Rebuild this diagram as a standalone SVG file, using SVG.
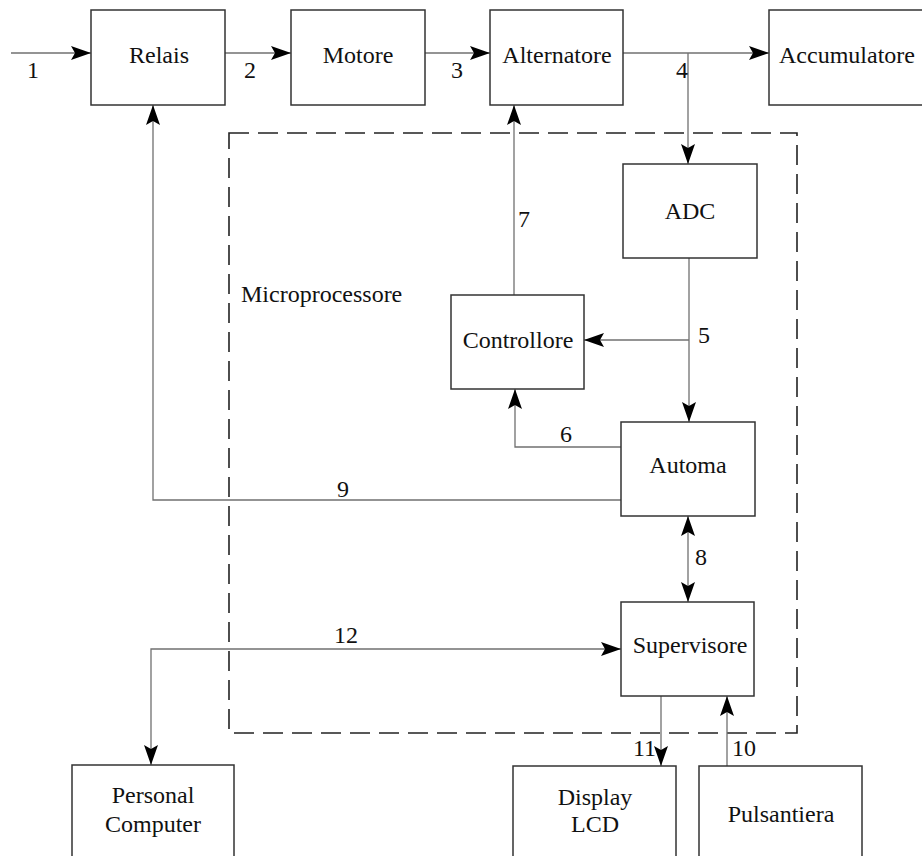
<svg xmlns="http://www.w3.org/2000/svg" width="922" height="856" viewBox="0 0 922 856">
<style>
.box{fill:#fff;stroke:#333;stroke-width:1.5}
.ln{fill:none;stroke:#707070;stroke-width:1.3}
.dash{fill:none;stroke:#222;stroke-width:1.6;stroke-dasharray:20 9}
text{font-family:"Liberation Serif","Times New Roman",Tinos,"DejaVu Serif",serif;font-size:24px;fill:#111}
.c{text-anchor:middle}
</style>
<defs>
<marker id="ah" markerUnits="userSpaceOnUse" markerWidth="22" markerHeight="16" refX="20" refY="7" orient="auto-start-reverse" viewBox="0 0 22 14">
<path d="M0,0 L20,7 L0,14 L4,7 z" fill="#000"/>
</marker>
</defs>
<rect width="922" height="856" fill="#fff"/>
<rect class="dash" x="229" y="133" width="568" height="600"/>
<text x="241" y="302" font-family="Liberation Serif, serif">Microprocessore</text>
<g id="connectors">
<path class="ln" d="M11,53 H91" marker-end="url(#ah)"/>
<path class="ln" d="M225,53 H291" marker-end="url(#ah)"/>
<path class="ln" d="M425,53 H490" marker-end="url(#ah)"/>
<path class="ln" d="M623,53 H769" marker-end="url(#ah)"/>
<path class="ln" d="M688,53 V164" marker-end="url(#ah)"/>
<path class="ln" d="M689,258 V422" marker-end="url(#ah)"/>
<path class="ln" d="M689,340 H584" marker-end="url(#ah)"/>
<path class="ln" d="M621,447 H515 V389" marker-end="url(#ah)"/>
<path class="ln" d="M514,295 V105" marker-end="url(#ah)"/>
<path class="ln" d="M621,500 H153 V105" marker-end="url(#ah)"/>
<path class="ln" d="M688,516 V602" marker-start="url(#ah)" marker-end="url(#ah)"/>
<path class="ln" d="M151,765 V649 H621" marker-start="url(#ah)" marker-end="url(#ah)"/>
<path class="ln" d="M661,696 V766" marker-end="url(#ah)"/>
<path class="ln" d="M727,766 V696" marker-end="url(#ah)"/>
<text x="33" y="78" class="c">1</text>
<text x="250" y="78" class="c">2</text>
<text x="457" y="78" class="c">3</text>
<text x="682" y="78" class="c">4</text>
<text x="698" y="343">5</text>
<text x="566" y="442" class="c">6</text>
<text x="518" y="227">7</text>
<text x="695" y="565">8</text>
<text x="343" y="497" class="c">9</text>
<text x="732" y="756">10</text>
<text x="656" y="756" text-anchor="end">11</text>
<text x="346" y="643" class="c">12</text>
</g>
<g id="relais"><rect class="box" x="91" y="10" width="134" height="95"/><text x="159" y="63" class="c">Relais</text></g>
<g id="motore"><rect class="box" x="291" y="10" width="134" height="95"/><text x="358" y="63" class="c">Motore</text></g>
<g id="alternatore"><rect class="box" x="490" y="10" width="133" height="95"/><text x="557" y="63" class="c">Alternatore</text></g>
<g id="accumulatore"><rect class="box" x="769" y="10" width="170" height="95"/><text x="847" y="63" class="c">Accumulatore</text></g>
<g id="adc"><rect class="box" x="623" y="164" width="134" height="94"/><text x="690" y="219" class="c">ADC</text></g>
<g id="controllore"><rect class="box" x="451" y="295" width="133" height="94"/><text x="518" y="348" class="c">Controllore</text></g>
<g id="automa"><rect class="box" x="621" y="422" width="134" height="94"/><text x="688" y="473" class="c">Automa</text></g>
<g id="supervisore"><rect class="box" x="621" y="602" width="133" height="94"/><text x="690" y="653" class="c">Supervisore</text></g>
<g id="pc"><rect class="box" x="72" y="765" width="162" height="110"/><text x="153" y="803" class="c">Personal</text><text x="153" y="832" class="c">Computer</text></g>
<g id="display"><rect class="box" x="513" y="766" width="163" height="110"/><text x="595" y="805" class="c">Display</text><text x="595" y="832" class="c">LCD</text></g>
<g id="pulsantiera"><rect class="box" x="699" y="766" width="163" height="110"/><text x="781" y="822" class="c">Pulsantiera</text></g>
</svg>
